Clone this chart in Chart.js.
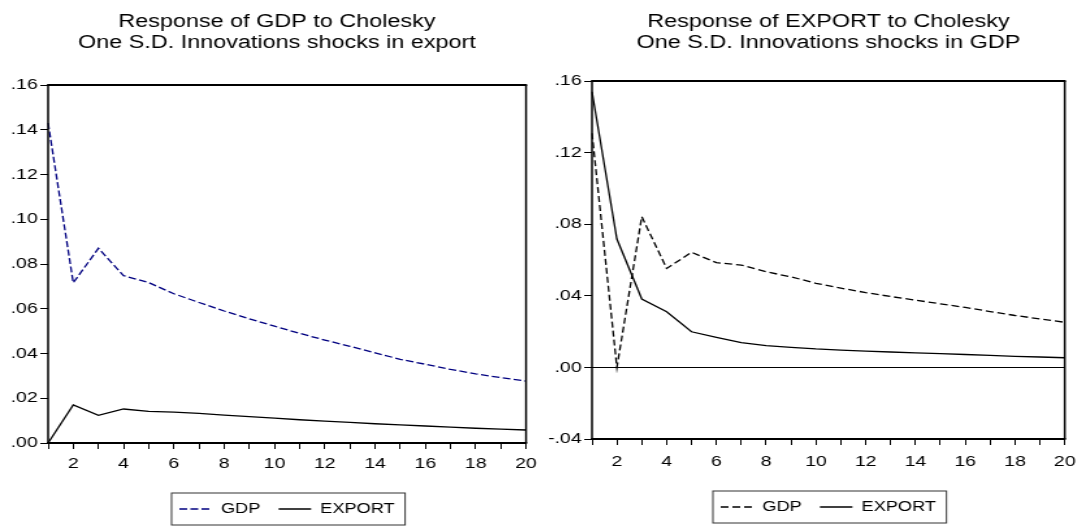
<!DOCTYPE html>
<html>
<head>
<meta charset="utf-8">
<script src="https://cdn.jsdelivr.net/npm/chart.js@4.4.1/dist/chart.umd.min.js"></script>
<style>
  html, body { margin: 0; padding: 0; background: #fff; }
  body { width: 1086px; height: 527px; position: relative; overflow: hidden; }
  /* the source picture is stretched sideways, so each panel is drawn narrow and widened */
  .panel { position: absolute; top: 0; height: 527px; transform: scaleX(1.3); transform-origin: 0 0; }
  #left { left: 0; width: 426px; }
  #right { left: 540px; width: 420px; }
</style>
</head>
<body>
<div class="panel" id="left"><canvas id="chartLeft" width="426" height="527"></canvas></div>
<div class="panel" id="right"><canvas id="chartRight" width="420" height="527"></canvas></div>
<script>
// periods of the impulse response
const periods = [1, 2, 3, 4, 5, 6, 7, 8, 9, 10, 11, 12, 13, 14, 15, 16, 17, 18, 19, 20];
const seriesNames = ['GDP', 'EXPORT'];

// Response of GDP
const gdpToGdp = [0.143, 0.0716, 0.087, 0.0748, 0.0717, 0.0667, 0.0628, 0.059, 0.0555, 0.0522,
                  0.049, 0.046, 0.0432, 0.0403, 0.0374, 0.0352, 0.0329, 0.0309, 0.0292, 0.0277];
const gdpToExport = [0.0, 0.017, 0.0124, 0.0152, 0.0141, 0.0138, 0.0132, 0.0125, 0.0118, 0.0111,
                     0.0104, 0.0098, 0.0092, 0.0086, 0.0081, 0.0076, 0.0071, 0.0066, 0.0062, 0.0058];

// Response of EXPORT
const exportToGdp = [0.1308, 0.0, 0.0842, 0.0553, 0.0643, 0.0585, 0.0572, 0.0534, 0.0506, 0.047,
                     0.0443, 0.0418, 0.0396, 0.0376, 0.0355, 0.0335, 0.0312, 0.029, 0.0271, 0.0252];
const exportToExport = [0.154, 0.0717, 0.0382, 0.0311, 0.0199, 0.0168, 0.0138, 0.0122, 0.0112, 0.0103,
                        0.0097, 0.0091, 0.0086, 0.0081, 0.0077, 0.0072, 0.0067, 0.0062, 0.0058, 0.0054];

// y axis ranges: [min, max, step]
const leftYAxis = [0, 0.16, 0.02];
const rightYAxis = [-0.04, 0.16, 0.04];

Chart.defaults.font.family = "'Liberation Sans', Arial, sans-serif";
Chart.defaults.color = '#000';

// ".16" style labels, like EViews
const fmt = v => v.toFixed(2).replace('0.', '.');

// frame round the plot and box round the legend
const framePlugin = {
  id: 'frame',
  afterDraw(chart) {
    const ctx = chart.ctx;
    const a = chart.chartArea;
    ctx.save();
    ctx.strokeStyle = '#000';
    ctx.lineWidth = 2;
    ctx.beginPath();
    ctx.moveTo(a.left - 0.8, a.top); ctx.lineTo(a.right + 0.8, a.top);
    ctx.moveTo(a.left - 0.8, a.bottom); ctx.lineTo(a.right + 0.8, a.bottom);
    ctx.stroke();
    ctx.lineWidth = 1.5;
    ctx.beginPath();
    ctx.moveTo(a.left, a.top); ctx.lineTo(a.left, a.bottom);
    ctx.moveTo(a.right, a.top); ctx.lineTo(a.right, a.bottom);
    ctx.stroke();

    const boxes = chart.legend.legendHitBoxes;
    if (boxes && boxes.length) {
      const l = Math.min(...boxes.map(b => b.left)) - 6;
      const r = Math.max(...boxes.map(b => b.left + b.width)) + 8;
      const t = boxes[0].top - 9;
      ctx.lineWidth = 1;
      ctx.strokeStyle = '#333';
      ctx.strokeRect(l, t, r - l, boxes[0].height + 18);
    }
    ctx.restore();
  }
};

function buildChart(id, title, gdpVals, exportVals, gdpColor, gdpDash, yAxis, g) {
  const scales = {
    x: {
      type: 'category',
      offset: false,
      grid: { drawOnChartArea: false, tickLength: 6, color: '#000' },
      border: { display: false },
      ticks: {
        autoSkip: false, maxRotation: 0, padding: g.xPad, font: { size: 15 },
        callback: (v, i) => periods[i] % 2 === 0 ? String(periods[i]) : ''
      },
      afterFit: s => { s.height = g.xHeight; }
    },
    y: {
      min: yAxis[0], max: yAxis[1],
      ticks: { stepSize: yAxis[2], padding: 2, font: { size: 15 }, callback: fmt },
      grid: {
        drawOnChartArea: g.zeroLine,
        tickLength: 6,
        tickColor: '#000',
        color: c => (!g.zeroLine || (c.tick && Math.abs(c.tick.value) < 1e-9)) ? '#000' : 'rgba(0,0,0,0)'
      },
      border: { display: false },
      afterFit: s => { s.width = g.yWidth; }
    }
  };
  if (g.rightSpace) {
    // empty axis that only keeps room on the right, so the title centres on the whole panel
    scales.yr = {
      position: 'right', display: true,
      grid: { display: false }, border: { display: false }, ticks: { display: false },
      afterFit: s => { s.width = g.rightSpace; }
    };
  }

  return new Chart(document.getElementById(id), {
    type: 'line',
    data: {
      labels: periods,
      datasets: [
        { label: seriesNames[0], data: gdpVals, borderColor: gdpColor, borderDash: gdpDash,
          borderWidth: 1.3, pointRadius: 0, tension: 0 },
        { label: seriesNames[1], data: exportVals, borderColor: '#000',
          borderWidth: 1.3, pointRadius: 0, tension: 0 }
      ]
    },
    options: {
      responsive: false,
      animation: false,
      devicePixelRatio: 1,
      layout: { padding: { left: 0, right: g.padRight, top: 0, bottom: g.padBottom } },
      plugins: {
        title: {
          display: true, text: title, fullSize: g.titleFull, color: '#000',
          font: { size: 18, weight: 'normal', lineHeight: 1.1667 },
          padding: { top: g.titleTop, bottom: g.titleBottom }
        },
        legend: {
          position: 'bottom', fullSize: false,
          labels: {
            usePointStyle: true, pointStyle: 'line', pointStyleWidth: 25,
            font: { size: 14 }, color: '#000', padding: 14,
            generateLabels: chart => Chart.defaults.plugins.legend.labels.generateLabels(chart).map((item, i) => {
              const ds = chart.data.datasets[i];
              return Object.assign(item, { lineDash: ds.borderDash || [], strokeStyle: ds.borderColor, lineWidth: ds.borderWidth });
            })
          }
        },
        tooltip: { enabled: false }
      },
      scales: scales
    },
    plugins: [framePlugin]
  });
}

buildChart('chartLeft',
  ['Response of GDP to Cholesky', 'One S.D. Innovations shocks in export'],
  gdpToGdp, gdpToExport, '#000080', [6, 2.5], leftYAxis,
  { yWidth: 37, rightSpace: 21.4, padRight: 0, padBottom: 1, xHeight: 45, xPad: 6,
    titleFull: true, titleTop: 12, titleBottom: 31, zeroLine: false });

buildChart('chartRight',
  ['Response of EXPORT to Cholesky', 'One S.D. Innovations shocks in GDP'],
  exportToGdp, exportToExport, '#000', [6, 3], rightYAxis,
  { yWidth: 40, rightSpace: 0, padRight: 12.3, padBottom: 3, xHeight: 47, xPad: 8,
    titleFull: false, titleTop: 12, titleBottom: 27, zeroLine: true });
</script>
</body>
</html>
